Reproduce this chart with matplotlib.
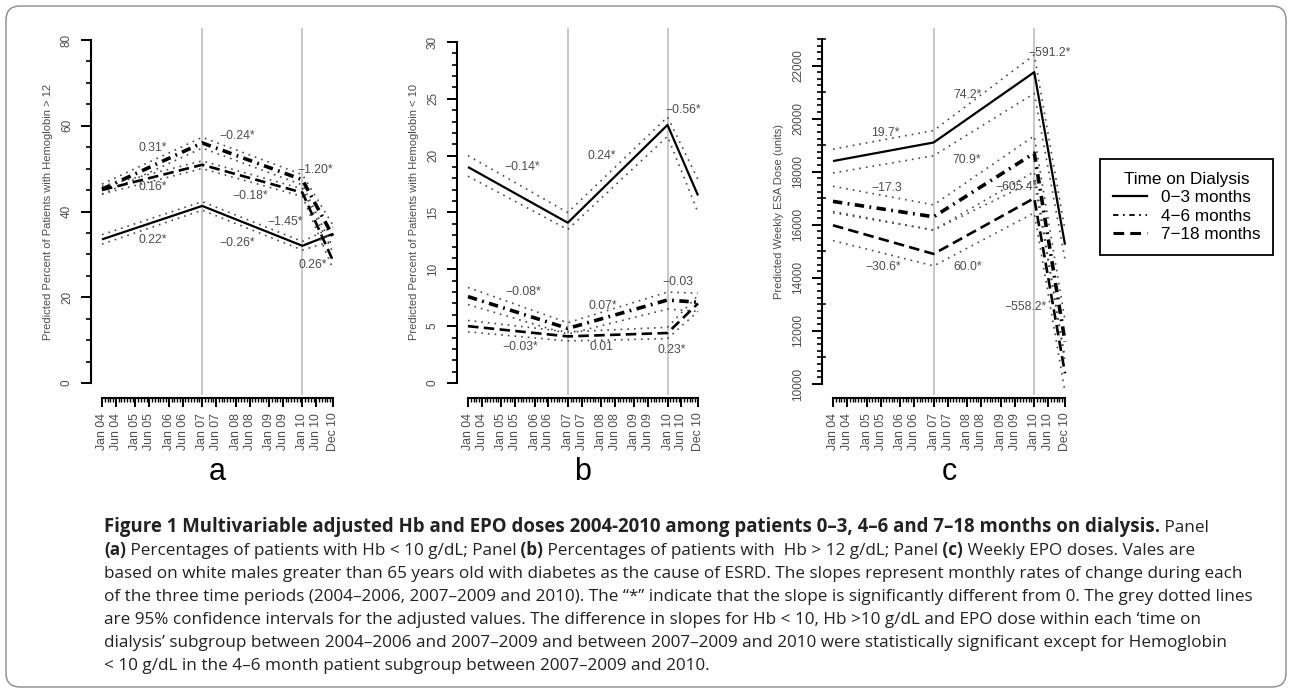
import matplotlib
matplotlib.use('Agg')
import matplotlib.pyplot as plt
from matplotlib.patches import FancyBboxPatch
from matplotlib.lines import Line2D
from matplotlib.ticker import FixedLocator, MultipleLocator

plt.rcParams['font.family'] = ['Liberation Sans', 'DejaVu Sans']

W, H = 1292, 693

# ---------------- data ----------------
knots = [0, 36, 72, 83]           # months since Jan 2004 (Jan04, Jan07, Jan10, Dec10)
tick_months = [0, 5, 12, 17, 24, 29, 36, 41, 48, 53, 60, 65, 72, 77, 83]
tick_labels = ['Jan 04', 'Jun 04', 'Jan 05', 'Jun 05', 'Jan 06', 'Jun 06', 'Jan 07',
               'Jun 07', 'Jan 08', 'Jun 08', 'Jan 09', 'Jun 09', 'Jan 10', 'Jun 10', 'Dec 10']
groups = ['0\u22123 months', '4\u22126 months', '7\u221218 months']

# Panel a: % Hb > 12
a_03 = [33.5, 41.3, 32.0, 34.8]
a_03_lo = [32.4, 40.3, 31.0, 33.2]
a_03_hi = [34.6, 42.3, 33.0, 36.4]
a_46 = [45.2, 56.0, 47.4, 34.2]
a_46_lo = [44.0, 54.8, 46.2, 31.6]
a_46_hi = [46.4, 57.3, 48.6, 36.8]
a_718 = [45.0, 50.9, 44.4, 28.5]
a_718_lo = [44.1, 50.0, 43.5, 26.6]
a_718_hi = [45.9, 51.8, 45.3, 30.4]
a_slopes = ['0.31*', '\u22120.24*', '\u22121.20*', '0.16*', '\u22120.18*', '\u22121.45*',
            '0.22*', '\u22120.26*', '0.26*']

# Panel b: % Hb < 10
b_03 = [19.0, 14.1, 22.7, 16.5]
b_03_lo = [18.2, 13.5, 21.7, 15.0]
b_03_hi = [20.0, 15.0, 23.4, 17.9]
b_46 = [7.6, 4.8, 7.3, 7.1]
b_46_lo = [6.9, 4.3, 6.5, 6.3]
b_46_hi = [8.4, 5.3, 8.0, 7.9]
b_718 = [5.0, 4.1, 4.4, 7.0]
b_718_lo = [4.5, 3.7, 3.9, 6.3]
b_718_hi = [5.5, 4.5, 4.9, 7.7]
b_slopes = ['\u22120.14*', '0.24*', '\u22120.56*', '\u22120.08*', '0.07*', '\u22120.03',
            '\u22120.03*', '0.01', '0.23*']

# Panel c: weekly ESA dose
c_03 = [18400, 19100, 21750, 15250]
c_03_lo = [17950, 18600, 20950, 14700]
c_03_hi = [18850, 19550, 22400, 15800]
c_46 = [16880, 16300, 18700, 11600]
c_46_lo = [16450, 15800, 18000, 10800]
c_46_hi = [17450, 16750, 19350, 12400]
c_718 = [15980, 14900, 17000, 10400]
c_718_lo = [15400, 14450, 16450, 9700]
c_718_hi = [16500, 15800, 17650, 11000]
c_slopes = ['19.7*', '74.2*', '\u2212591.2*', '\u221217.3', '70.9*', '\u2212605.4*',
            '\u221230.6*', '60.0*', '\u2212558.2*']

# ---------------- figure ----------------
fig = plt.figure(figsize=(W / 100, H / 100), dpi=100)


def rect(x0, x1, y0, y1):
    return [x0 / W, 1 - y1 / H, (x1 - x0) / W, (y1 - y0) / H]


solid_kw = dict(color='black', lw=1.6, linestyle='-', solid_capstyle='butt')
dd_kw = dict(color='black', lw=2.6, linestyle=(0, (2.6, 1.5, 0.5, 1.5)), dash_capstyle='butt')
da_kw = dict(color='black', lw=1.9, linestyle=(0, (4, 2)), dash_capstyle='butt')
ci_kw = dict(color='#4a4a4a', lw=1.2, linestyle=(0, (1, 3)))
txt_color = '#4d4d4d'


def panel(r, ylim, ybounds, ymajor, yminor, series, slopes, label_pos, ylabel, yfmt=None):
    ax = fig.add_axes(r)
    ax.set_xlim(0, 83)
    ax.set_ylim(*ylim)
    for s in ['top', 'right']:
        ax.spines[s].set_visible(False)
    ax.spines['left'].set_position(('outward', 7.9))
    ax.spines['left'].set_bounds(*ybounds)
    ax.spines['bottom'].set_position(('outward', 2.2))
    ax.spines['bottom'].set_bounds(0, 83)
    for s in ['left', 'bottom']:
        ax.spines[s].set_linewidth(1.5)
    ax.axvline(36, color='#c8c8c8', lw=1.4, zorder=0)
    ax.axvline(72, color='#c8c8c8', lw=1.4, zorder=0)
    for (vals, lo, hi, kw) in series:
        ax.plot(knots, lo, clip_on=False, **ci_kw)
        ax.plot(knots, hi, clip_on=False, **ci_kw)
        ax.plot(knots, vals, clip_on=False, **kw)
    for s, (mx, my) in zip(slopes, label_pos):
        ax.text(mx, my, s, ha='center', va='center', fontsize=8.8, color=txt_color)
    # y axis
    ax.yaxis.set_major_locator(FixedLocator(ymajor))
    ax.yaxis.set_minor_locator(FixedLocator(yminor))
    ax.tick_params(axis='y', which='major', length=7, width=1.4, labelsize=8.5,
                   labelcolor=txt_color, pad=6)
    ax.tick_params(axis='y', which='minor', length=3.5, width=1.2)
    if yfmt:
        ax.set_yticklabels([yfmt(v) for v in ymajor])
    for lbl in ax.get_yticklabels():
        lbl.set_rotation(90)
        lbl.set_va('center')
    ax.set_ylabel(ylabel, fontsize=8, color=txt_color, labelpad=6)
    # x axis
    ax.xaxis.set_major_locator(FixedLocator(tick_months))
    ax.xaxis.set_minor_locator(MultipleLocator(1))
    ax.set_xticklabels(tick_labels, rotation=90, fontsize=8.8, color=txt_color)
    ax.tick_params(axis='x', which='major', length=6.5, width=1.4, pad=4)
    ax.tick_params(axis='x', which='minor', length=3, width=1.0)
    return ax


axa = panel(rect(102, 333, 28, 395), (-2.80, 82.80), (0, 80), [0, 20, 40, 60, 80],
            list(range(0, 81, 5)),
            [(a_03, a_03_lo, a_03_hi, solid_kw), (a_46, a_46_lo, a_46_hi, dd_kw),
             (a_718, a_718_lo, a_718_hi, da_kw)],
            a_slopes,
            [(18.3, 54.8), (48.5, 57.6), (76.5, 49.7), (18.3, 45.7), (53.2, 43.6),
             (65.8, 37.5), (18.3, 33.4), (48.5, 32.7), (75.8, 27.5)],
            'Predicted Percent of Patients with Hemoglobin > 12')

axb = panel(rect(468, 698, 28, 395), (-1.056, 31.23), (0, 30), [0, 5, 10, 15, 20, 25, 30],
            list(range(0, 31, 1)),
            [(b_03, b_03_lo, b_03_hi, solid_kw), (b_46, b_46_lo, b_46_hi, dd_kw),
             (b_718, b_718_lo, b_718_hi, da_kw)],
            b_slopes,
            [(19.5, 19.0), (48.4, 20.0), (77.6, 24.0), (19.8, 8.0), (48.7, 6.8),
             (75.8, 8.9), (18.8, 3.2), (48.0, 3.2), (73.6, 2.9)],
            'Predicted Percent of Patients with Hemoglobin < 10')

axc = panel(rect(833, 1065, 28, 395), (9585, 23414), (10000, 23000),
            [10000, 12000, 14000, 16000, 18000, 20000, 22000],
            list(range(10000, 23001, 250)),
            [(c_03, c_03_lo, c_03_hi, solid_kw), (c_46, c_46_lo, c_46_hi, dd_kw),
             (c_718, c_718_lo, c_718_hi, da_kw)],
            c_slopes,
            [(18.6, 19457), (48.3, 20889), (77.6, 22472), (19.3, 17385), (47.9, 18440),
             (65.8, 17423), (17.9, 14408), (48.3, 14408), (68.7, 12900)],
            'Predicted Weekly ESA Dose (units)', yfmt=lambda v: '%d' % v)
# medium ticks at every odd thousand on panel c
for yv in range(11000, 23001, 2000):
    axc.plot([-4.0, -2.8], [yv, yv], color='black', lw=1.2, clip_on=False,
             transform=axc.transData)

# panel letters
for x, s in [(217, 'a'), (583, 'b'), (949, 'c')]:
    fig.text(x / W, 1 - 472 / H, s, ha='center', va='center', fontsize=22, color='black')

# legend
handles = [Line2D([], [], color='black', lw=1.6),
           Line2D([], [], color='black', lw=1.3, linestyle=(0, (3, 2.5, 1, 2.5))),
           Line2D([], [], color='black', lw=2.2, linestyle=(0, (3.5, 2)))]
leg = fig.legend(handles, groups, title='Time on Dialysis', loc='upper left',
                 bbox_to_anchor=(1100 / W, 1 - 159 / H), bbox_transform=fig.transFigure,
                 frameon=True, fancybox=False, edgecolor='black', framealpha=1,
                 fontsize=12.3, title_fontsize=12.3, handlelength=2.0, handletextpad=0.8,
                 borderpad=0.75, labelspacing=0.2, borderaxespad=0)
leg.get_frame().set_linewidth(1.3)

# caption
cap_font = ['Open Sans', 'DejaVu Sans']
caption_lines = [
    [("Figure 1 Multivariable adjusted Hb and EPO doses 2004-2010 among patients 0\u20133, 4\u20136 and 7\u201318 months on dialysis.", True),
     (" Panel", False)],
    [("(a)", True), (" Percentages of patients with Hb < 10 g/dL; Panel", False), (" (b)", True),
     (" Percentages of patients with  Hb > 12 g/dL; Panel", False), (" (c)", True),
     (" Weekly EPO doses. Vales are", False)],
    [("based on white males greater than 65 years old with diabetes as the cause of ESRD. The slopes represent monthly rates of change during each", False)],
    [("of the three time periods (2004\u20132006, 2007\u20132009 and 2010). The \u201c*\u201d indicate that the slope is significantly different from 0. The grey dotted lines", False)],
    [("are 95% confidence intervals for the adjusted values. The difference in slopes for Hb < 10, Hb >10 g/dL and EPO dose within each \u2018time on", False)],
    [("dialysis\u2019 subgroup between 2004\u20132006 and 2007\u20132009 and between 2007\u20132009 and 2010 were statistically significant except for Hemoglobin", False)],
    [("< 10 g/dL in the 4\u20136 month patient subgroup between 2007\u20132009 and 2010.", False)],
]
renderer = fig.canvas.get_renderer()
probe = fig.text(0, 0, caption_lines[3][0][0], fontsize=10, family=cap_font)
pw = probe.get_window_extent(renderer).width
probe.remove()
cap_size = 10 * (1250 - 104) / pw

# bold title segment of line 1 fitted to its reference extent (104 -> 1162 px)
probe = fig.text(0, 0, caption_lines[0][0][0], fontsize=10, family=cap_font, fontweight='bold')
bw = probe.get_window_extent(renderer).width
probe.remove()
title_size = 10 * (1162 - 104) / bw

x0 = 104
for i, line in enumerate(caption_lines):
    x = x0
    y = 532 + 23 * i
    for j, (seg, bold) in enumerate(line):
        size = title_size if (i == 0 and j == 0) else cap_size
        t = fig.text(x / W, 1 - y / H, seg, fontsize=size, family=cap_font,
                     fontweight='bold' if bold else 'normal', ha='left', va='baseline',
                     color='#222222')
        x += t.get_window_extent(renderer).width

# rounded border
border = FancyBboxPatch((6, 6), W - 12, H - 12, boxstyle='round,pad=0,rounding_size=14',
                        transform=None, fill=False, edgecolor='#8a8a8a', lw=1.0)
fig.patches.append(border)

fig.savefig('out.png', dpi=100)
